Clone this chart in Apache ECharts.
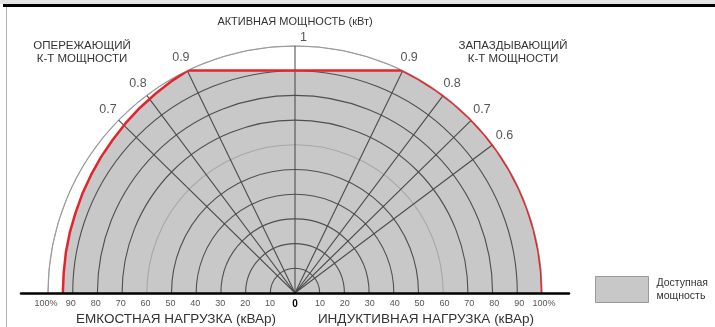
<!DOCTYPE html>
<html><head><meta charset="utf-8">
<script src="https://cdn.jsdelivr.net/npm/echarts@6/dist/echarts.min.js"></script>
<style>
html,body{margin:0;padding:0;background:#fff;}
#band{position:absolute;left:0;top:0;width:715px;height:4px;background:#e4e4e4;}
#topline{position:absolute;left:3px;top:4px;width:712px;height:3px;background:#000;}
#leftline{position:absolute;left:6px;top:7px;width:1px;height:320px;background:#b0b0b0;}
#chart{position:absolute;left:0;top:0;width:715px;height:327px;}
</style></head><body>
<div id="band"></div><div id="topline"></div><div id="leftline"></div>
<div id="chart"></div>
<script>
// Power factor radial lines
const leadingPF = [0.9, 0.8, 0.7];
const laggingPF = [0.9, 0.8, 0.7, 0.6];
// Capability boundary: angle from vertical (deg, negative = leading) and available power (%)
const boundaryAngle = [-90, -85, -80, -75, -70, -65, -60, -55, -50, -45, -40, -35, -30, -25.8,
                       25.8, 30, 35, 40, 45, 50, 55, 60, 65, 70, 75, 80, 85, 90];
const boundaryRadius = [94.0, 94.0, 94.2, 94.4, 94.6, 95.0, 95.4, 95.9, 96.4, 97.1, 97.8, 98.5, 99.3, 100,
                        100, 100, 100, 100, 100, 100, 100, 100, 100, 100, 100, 100, 100, 100];
// Reactive load tick labels
const qTickValues = [-100, -90, -80, -70, -60, -50, -40, -30, -20, -10, 0, 10, 20, 30, 40, 50, 60, 70, 80, 90, 100];
const qTickLabels = ['100%', '90', '80', '70', '60', '50', '40', '30', '20', '10', '0', '10', '20', '30', '40', '50', '60', '70', '80', '90', '100%'];
// Concentric rings (%), lighter ones
const ringValues = [0, 10, 20, 30, 40, 50, 60, 70, 80, 90, 100];
const lightRings = [60, 100];
const legendName = 'Доступная\nмощность';

const FONT = 'Liberation Sans, Arial, sans-serif';
const toDeg = pf => Math.acos(pf) * 180 / Math.PI;

const chart = echarts.init(document.getElementById('chart'), null, {renderer: 'canvas'});

const radialAngles = [];
leadingPF.forEach(pf => radialAngles.push(-toDeg(pf)));
laggingPF.forEach(pf => radialAngles.push(toDeg(pf)));

const series = [];
series.push({
  name: legendName, type: 'line', coordinateSystem: 'polar',
  data: boundaryAngle.map((a, i) => [boundaryRadius[i], a]),
  symbol: 'none', lineStyle: {width: 0, opacity: 0},
  itemStyle: {color: '#c8c8c8'},
  areaStyle: {color: '#c8c8c8', opacity: 1},
  z: 1, silent: true, animation: false
});
radialAngles.forEach(a => series.push({
  type: 'line', coordinateSystem: 'polar', data: [[0, a], [100, a]],
  symbol: 'none', lineStyle: {color: '#4a4a4a', width: 1.1}, z: 4, silent: true, animation: false
}));
series.push({
  type: 'line', coordinateSystem: 'polar', data: [[0, 0], [105.5, 0]], clip: false,
  symbol: 'none', lineStyle: {color: '#444', width: 1}, z: 4, silent: true, animation: false
});
series.push({
  type: 'line', coordinateSystem: 'polar',
  data: boundaryAngle.map((a, i) => [boundaryRadius[i], a]),
  symbol: 'none', lineStyle: {color: '#e3242b', width: 2.5}, z: 10, silent: true, animation: false
});
const pfLabels = [];
leadingPF.forEach(pf => pfLabels.push({name: String(pf), value: [106, -toDeg(pf)]}));
laggingPF.forEach(pf => pfLabels.push({name: String(pf), value: [106, toDeg(pf)]}));
series.push({
  type: 'scatter', coordinateSystem: 'polar', data: pfLabels, symbolSize: 0, clip: false,
  label: {show: true, position: 'inside', formatter: '{b}', fontSize: 12.5, color: '#2a2a2a', fontFamily: FONT},
  z: 12, silent: true, animation: false
});
series.push({
  type: 'scatter', coordinateSystem: 'polar', data: [{name: '1', value: [103.5, 0]}], symbolSize: 0, clip: false,
  label: {show: true, position: 'right', distance: 5, formatter: '{b}', fontSize: 12.5, color: '#2a2a2a', fontFamily: FONT},
  z: 12, silent: true, animation: false
});

const ringColors = ringValues.map(v => lightRings.includes(v) ? '#a8a8a8' : '#4f4f4f');

const titleStyle = (size) => ({fontSize: size, fontWeight: 'normal', color: '#333', fontFamily: FONT, lineHeight: size + 2});

chart.setOption({
  animation: false,
  backgroundColor: 'transparent',
  title: [
    {text: 'АКТИВНАЯ МОЩНОСТЬ (кВт)', left: 295, top: 15, textAlign: 'center', padding: 0, textStyle: titleStyle(11)},
    {text: 'ОПЕРЕЖАЮЩИЙ\nК-Т МОЩНОСТИ', left: 82, top: 39, textAlign: 'center', padding: 0, textStyle: titleStyle(11.5)},
    {text: 'ЗАПАЗДЫВАЮЩИЙ\nК-Т МОЩНОСТИ', left: 513, top: 39, textAlign: 'center', padding: 0, textStyle: titleStyle(11.5)},
    {text: 'ЕМКОСТНАЯ НАГРУЗКА (кВАр)', left: 176, top: 312, textAlign: 'center', padding: 0, textStyle: titleStyle(13.5)},
    {text: 'ИНДУКТИВНАЯ НАГРУЗКА (кВАр)', left: 426, top: 312, textAlign: 'center', padding: 0, textStyle: titleStyle(13.5)}
  ],
  legend: {
    left: 590, top: 271, orient: 'vertical', itemWidth: 53, itemHeight: 26, itemGap: 10,
    selectedMode: false,
    textStyle: {fontSize: 10.5, color: '#333', fontFamily: FONT, lineHeight: 13, padding: [0, 0, 0, 3]},
    data: [{name: legendName, icon: 'rect', itemStyle: {color: '#c8c8c8', borderColor: '#999', borderWidth: 1}}]
  },
  grid: {left: 21, width: 548, top: 45, bottom: 34, containLabel: false},
  xAxis: {
    type: 'value', min: -110, max: 110, interval: 10, position: 'bottom', z: 20,
    axisLine: {show: true, onZero: false, lineStyle: {color: '#000', width: 2.5}},
    axisTick: {show: false}, splitLine: {show: false},
    axisLabel: {
      margin: 6, fontSize: 9, color: '#555', fontFamily: FONT,
      formatter: v => {
        const i = qTickValues.indexOf(Math.round(v));
        if (i < 0) return '';
        return v === 0 ? '{b|' + qTickLabels[i] + '}' : qTickLabels[i];
      },
      rich: {b: {fontWeight: 'bold', color: '#000', fontSize: 10, fontFamily: FONT}}
    }
  },
  yAxis: {type: 'value', min: 0, max: 100, show: false},
  polar: {center: [295, 293], radius: 247},
  angleAxis: {
    type: 'value', min: -90, max: 90, startAngle: 180, endAngle: 0, clockwise: true, z: 3,
    axisLine: {show: true, lineStyle: {color: '#9a9a9a', width: 1}},
    axisTick: {show: false}, axisLabel: {show: false}, splitLine: {show: false}
  },
  radiusAxis: {
    type: 'value', min: 0, max: 100, interval: 10, z: 3,
    axisLine: {show: false}, axisTick: {show: false}, axisLabel: {show: false},
    splitLine: {show: true, lineStyle: {color: ringColors, width: 1.1}}
  },
  series: series
});
</script>
</body></html>
